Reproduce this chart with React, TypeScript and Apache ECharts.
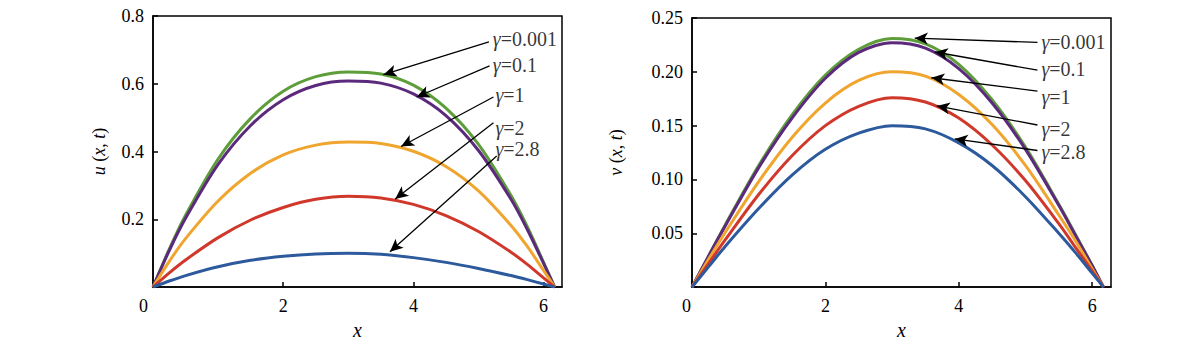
import React, { useEffect, useRef } from "react";
import * as echarts from "echarts";

// x positions (shared by both panels)
const xValues = [0, 0.25, 0.5, 1, 1.5, 2, 2.5, 3, 3.5, 4, 4.5, 5, 5.5, 5.75, 6, 6.17];

// gamma values, in legend order
const gammaValues = ["0.001", "0.1", "1", "2", "2.8"];
const seriesColors = ["#5e9e3a", "#5c2a7c", "#efa52e", "#d0382b", "#2d5a9c"];

// Left panel u(x,t)
const uG001 = [0, 0.112, 0.212, 0.378, 0.498, 0.578, 0.621, 0.635, 0.629, 0.596, 0.528, 0.421, 0.27, 0.178, 0.073, 0];
const uG01 = [0, 0.108, 0.203, 0.362, 0.477, 0.553, 0.595, 0.608, 0.602, 0.57, 0.506, 0.403, 0.259, 0.17, 0.07, 0];
const uG1 = [0, 0.076, 0.143, 0.254, 0.336, 0.39, 0.419, 0.428, 0.424, 0.401, 0.356, 0.284, 0.182, 0.12, 0.049, 0];
const uG2 = [0, 0.042, 0.08, 0.146, 0.198, 0.235, 0.259, 0.268, 0.263, 0.244, 0.211, 0.164, 0.103, 0.067, 0.027, 0];
const uG28 = [0, 0.018, 0.034, 0.06, 0.079, 0.091, 0.098, 0.1, 0.097, 0.087, 0.073, 0.055, 0.034, 0.022, 0.009, 0];

// Right panel v(x,t)
const vG001 = [0, 0.029, 0.058, 0.113, 0.16, 0.197, 0.221, 0.231, 0.226, 0.207, 0.174, 0.13, 0.077, 0.049, 0.02, 0];
const vG01 = [0, 0.029, 0.057, 0.111, 0.157, 0.194, 0.218, 0.227, 0.222, 0.203, 0.171, 0.128, 0.076, 0.048, 0.02, 0];
const vG1 = [0, 0.026, 0.051, 0.098, 0.139, 0.171, 0.192, 0.2, 0.196, 0.179, 0.151, 0.113, 0.067, 0.043, 0.017, 0];
const vG2 = [0, 0.022, 0.044, 0.086, 0.122, 0.15, 0.168, 0.176, 0.172, 0.157, 0.132, 0.099, 0.059, 0.037, 0.015, 0];
const vG28 = [0, 0.019, 0.038, 0.073, 0.104, 0.128, 0.143, 0.15, 0.147, 0.134, 0.113, 0.084, 0.05, 0.032, 0.013, 0];

// Axis ranges / ticks
const xMax = 6.283;
const xInterval = 2;
const uMax = 0.8;
const uInterval = 0.2;
const vMax = 0.25;
const vInterval = 0.05;

// Annotation arrows (data coordinates)
const uArrowFrom = [[5.16, 0.724], [5.17, 0.653], [5.23, 0.561], [5.23, 0.485], [5.28, 0.387]];
const uArrowTo = [[3.54, 0.627], [4.05, 0.561], [3.81, 0.415], [3.72, 0.26], [3.64, 0.104]];
const uLabelAt = [[5.22, 0.731], [5.22, 0.656], [5.26, 0.568], [5.26, 0.47], [5.26, 0.407]];

const vArrowFrom = [[5.18, 0.2273], [5.18, 0.2015], [5.18, 0.1821], [5.18, 0.1506], [5.18, 0.1269]];
const vArrowTo = [[3.34, 0.2313], [3.64, 0.2184], [3.59, 0.1945], [3.67, 0.1683], [3.94, 0.1377]];
const vLabelAt = [[5.24, 0.2273], [5.24, 0.2028], [5.24, 0.1766], [5.24, 0.1469], [5.24, 0.1254]];

const FONT = "Liberation Serif";

function pairs(ys: number[]) {
  return xValues.map((x, i) => [x, ys[i]]);
}

function lineSeries(ys: number[], color: string, idx: number) {
  return {
    type: "line",
    xAxisIndex: idx,
    yAxisIndex: idx,
    data: pairs(ys),
    smooth: 0.3,
    showSymbol: false,
    symbol: "none",
    lineStyle: { color, width: 3 },
    itemStyle: { color },
    silent: true,
  };
}

function annotationSeries(
  labelAt: number[][],
  from: number[][],
  to: number[][],
  idx: number
) {
  return {
    type: "scatter",
    xAxisIndex: idx,
    yAxisIndex: idx,
    symbolSize: 0,
    silent: true,
    z: 5,
    data: labelAt.map((p, i) => ({ value: p, name: gammaValues[i] })),
    label: {
      show: true,
      position: "right",
      distance: 0,
      color: "#000",
      fontFamily: FONT,
      fontSize: 20,
      formatter: (p: any) => `{g|γ}{n|=${p.name}}`,
      rich: {
        g: { fontStyle: "italic", fontFamily: FONT, fontSize: 20, color: "#000" },
        n: { fontFamily: FONT, fontSize: 20, color: "#000" },
      },
    },
    markLine: {
      silent: true,
      symbol: ["none", "arrow"],
      symbolSize: [9, 13],
      label: { show: false },
      lineStyle: { color: "#000", width: 1.3, type: "solid" },
      itemStyle: { color: "#000" },
      data: from.map((f, i) => [{ coord: f }, { coord: to[i] }]),
    },
  };
}

function xAxis(idx: number, zeroPad: number) {
  return {
    type: "value",
    gridIndex: idx,
    min: 0,
    max: xMax,
    interval: xInterval,
    name: "{i|x}",
    nameLocation: "middle",
    nameGap: 31,
    nameTextStyle: {
      fontFamily: FONT,
      fontSize: 20,
      color: "#000",
      rich: { i: { fontStyle: "italic", fontFamily: FONT, fontSize: 20, color: "#000" } },
    },
    axisLine: { show: true, onZero: false, lineStyle: { color: "#000", width: 1.5 } },
    axisTick: { show: true, inside: true, length: 5, lineStyle: { color: "#000", width: 1.5 } },
    splitLine: { show: false },
    axisLabel: {
      showMaxLabel: false,
      color: "#000",
      fontFamily: FONT,
      fontSize: 18,
      margin: 10,
      formatter: (v: number) => (v === 0 ? "{z|0}" : String(Math.round(v))),
      rich: {
        z: { fontFamily: FONT, fontSize: 18, color: "#000", padding: [0, zeroPad, 0, 0] },
      },
    },
  };
}

function yAxis(idx: number, max: number, interval: number, digits: number, name: string, gap: number) {
  return {
    type: "value",
    gridIndex: idx,
    min: 0,
    max,
    interval,
    name,
    nameLocation: "middle",
    nameGap: gap,
    nameTextStyle: {
      fontFamily: FONT,
      fontSize: 18,
      color: "#000",
      rich: {
        i: { fontStyle: "italic", fontFamily: FONT, fontSize: 18, color: "#000" },
        r: { fontFamily: FONT, fontSize: 18, color: "#000" },
      },
    },
    axisLine: { show: true, onZero: false, lineStyle: { color: "#000", width: 1.5 } },
    axisTick: { show: true, inside: true, length: 5, lineStyle: { color: "#000", width: 1.5 } },
    splitLine: { show: false },
    axisLabel: {
      color: "#000",
      fontFamily: FONT,
      fontSize: 18,
      margin: 9,
      formatter: (v: number) => (v === 0 ? "" : v.toFixed(digits)),
    },
  };
}

export default function App() {
  const ref = useRef<HTMLDivElement>(null);

  useEffect(() => {
    if (!ref.current) return;
    const chart = echarts.init(ref.current, undefined, { renderer: "svg" });
    const uSeries = [uG001, uG01, uG1, uG2, uG28];
    const vSeries = [vG001, vG01, vG1, vG2, vG28];
    const option: any = {
      animation: false,
      backgroundColor: "#fff",
      textStyle: { fontFamily: FONT },
      grid: [
        { left: 153, top: 16, width: 409, height: 273, show: true, borderColor: "#000", borderWidth: 1.5, backgroundColor: "transparent" },
        { left: 692, top: 18, width: 419, height: 271, show: true, borderColor: "#000", borderWidth: 1.5, backgroundColor: "transparent" },
      ],
      xAxis: [xAxis(0, 19), xAxis(1, 11)],
      yAxis: [
        yAxis(0, uMax, uInterval, 1, "{i|u}{r| (}{i|x}{r|, }{i|t}{r|)}", 45),
        yAxis(1, vMax, vInterval, 2, "{i|v}{r| (}{i|x}{r|, }{i|t}{r|)}", 67),
      ],
      series: [
        ...uSeries.map((s, i) => lineSeries(s, seriesColors[i], 0)),
        ...vSeries.map((s, i) => lineSeries(s, seriesColors[i], 1)),
        annotationSeries(uLabelAt, uArrowFrom, uArrowTo, 0),
        annotationSeries(vLabelAt, vArrowFrom, vArrowTo, 1),
      ],
    };
    chart.setOption(option);
    return () => chart.dispose();
  }, []);

  return (
    <div
      ref={ref}
      style={{ position: "absolute", left: 0, top: 0, width: 1200, height: 345 }}
    />
  );
}
